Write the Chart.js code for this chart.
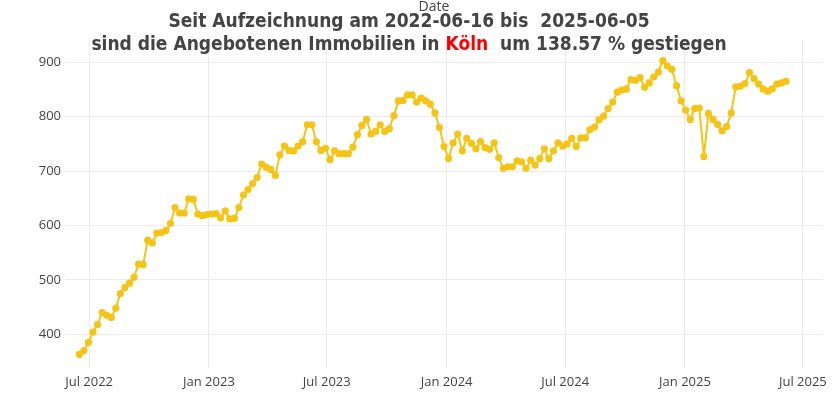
<!DOCTYPE html>
<html>
<head>
<meta charset="utf-8">
<script src="https://cdn.jsdelivr.net/npm/chart.js@4.4.1/dist/chart.umd.min.js"></script>
<style>
  html, body { margin: 0; padding: 0; background: #fff; }
  #wrap { width: 833px; height: 398px; position: relative; }
</style>
</head>
<body>
<div id="wrap"><canvas id="chart"></canvas></div>
<script>
// erste Aufzeichnung, danach wöchentlich
const START_DATE = '2022-06-16';
const END_DATE   = '2025-06-05';
const CITY       = 'Köln';
const PCT        = '138.57';

// Angebotene Immobilien pro Woche
const ANGEBOTE = [
  363, 370, 385, 404, 418, 440, 435, 431, 448, 475, 486, 494, 505, 529, 528, 573, 568, 586, 587, 591, 604, 633, 623, 623, 649,
  648, 621, 618, 620, 621, 622, 614, 627, 612, 613, 633,
  656, 666, 677, 688, 713, 707, 703, 692, 730, 746, 738, 737,
  746, 754, 785, 785, 754, 738, 742, 721, 737, 732, 732, 732, 744, 767, 784, 795, 768, 773, 785, 773, 778, 802, 829, 830, 840, 840, 827,
  834, 829, 823, 807, 780, 745, 723, 752, 768, 737, 760, 751, 741, 754, 743, 740, 752, 725, 705, 708, 708, 719, 717, 705, 720,
  711, 723, 741, 723, 737, 752, 746, 750, 760, 745, 761, 761, 776, 781, 794,
  801, 815, 827, 845, 849, 851, 868, 867, 872, 854, 862, 873, 882, 903, 893,
  887, 857, 829, 812, 795, 815, 816, 727, 806, 795, 786, 774, 782, 807, 855, 856, 861, 881, 870, 860, 851, 847, 851, 860, 862, 865
];

const X_TICKS = ['2022-07-01', '2023-01-01', '2023-07-01', '2024-01-01', '2024-07-01', '2025-01-01', '2025-07-01'];
const Y_TICKS = [400, 500, 600, 700, 800, 900];
const MONTHS  = ['Jan','Feb','Mar','Apr','May','Jun','Jul','Aug','Sep','Oct','Nov','Dec'];

const DAY  = 86400000;
const t0   = Date.parse(START_DATE);
const punkte = ANGEBOTE.map((v, i) => ({ x: t0 + i * 7 * DAY, y: v }));

const GELB = '#F5C414';
const TXT  = '#444444';

const titelPlugin = {
  id: 'titel',
  afterDraw(chart) {
    const c = chart.ctx;
    c.save();
    c.textBaseline = 'middle';
    c.fillStyle = TXT;
    c.font = '14px "Open Sans", sans-serif';
    c.textAlign = 'center';
    c.fillText('Date', 434, 7);

    c.font = 'bold 19px "DejaVu Sans Condensed", "Liberation Sans Narrow", sans-serif';
    c.fillText(`Seit Aufzeichnung am ${START_DATE} bis  ${END_DATE}`, 409, 22);

    const a = 'sind die Angebotenen Immobilien in ';
    const b = CITY;
    const d = `  um ${PCT} % gestiegen`;
    const wa = c.measureText(a).width, wb = c.measureText(b).width, wd = c.measureText(d).width;
    let x = 409 - (wa + wb + wd) / 2;
    c.textAlign = 'left';
    c.fillText(a, x, 45); x += wa;
    c.fillStyle = '#ff0000';
    c.fillText(b, x, 45); x += wb;
    c.fillStyle = TXT;
    c.fillText(d, x, 45);
    c.restore();
  }
};

new Chart(document.getElementById('chart'), {
  type: 'line',
  data: {
    datasets: [{
      data: punkte,
      borderColor: GELB,
      backgroundColor: GELB,
      pointBackgroundColor: GELB,
      pointBorderColor: GELB,
      pointRadius: 3.6,
      pointBorderWidth: 0,
      borderWidth: 2,
      tension: 0,
    }],
  },
  options: {
    responsive: true, maintainAspectRatio: false, animation: false,
    layout: { padding: { top: 40, right: 8, left: 0, bottom: 0 } },
    plugins: { legend: { display: false }, tooltip: { enabled: false } },
    scales: {
      x: {
        type: 'linear',
        min: Date.parse('2022-05-25'), max: Date.parse('2025-07-31'),
        afterBuildTicks: s => { s.ticks = X_TICKS.map(d => ({ value: Date.parse(d) })); },
        afterFit: s => { s.height = 30; },
        border: { display: false },
        grid: { color: '#ebebeb', drawTicks: false },
        ticks: {
          padding: 6, color: TXT, font: { family: 'Open Sans', size: 13 }, maxRotation: 0,
          callback: v => { const d = new Date(v); return MONTHS[d.getUTCMonth()] + ' ' + d.getUTCFullYear(); },
        },
      },
      y: {
        min: 338, max: 941,
        afterBuildTicks: s => { s.ticks = Y_TICKS.map(v => ({ value: v })); },
        afterFit: s => { s.width = 65; },
        border: { display: false },
        grid: { color: '#ebebeb', drawTicks: false },
        ticks: { padding: 4, color: TXT, font: { family: 'Open Sans', size: 13 } },
      },
    },
  },
  plugins: [titelPlugin],
});
</script>
</body>
</html>
